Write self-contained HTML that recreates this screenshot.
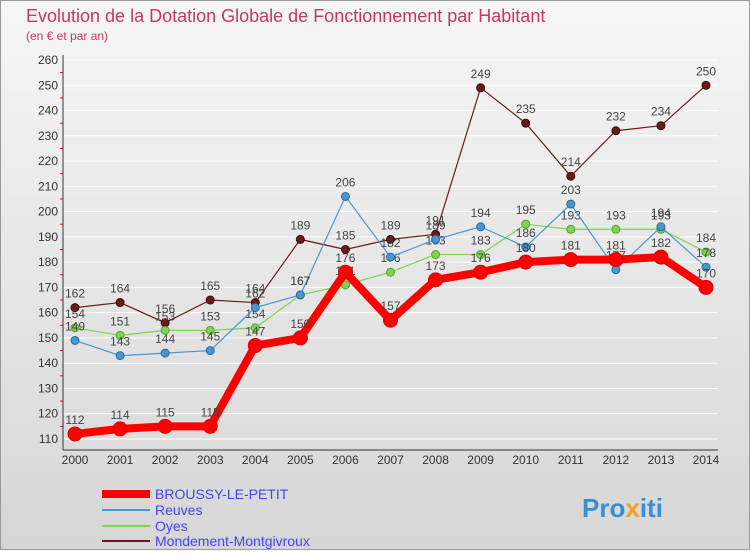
<!DOCTYPE html>
<html><head><meta charset="utf-8"><style>
body{margin:0;width:750px;height:550px;overflow:hidden;font-family:"Liberation Sans",sans-serif;}
</style></head><body>
<svg width="750" height="550" xmlns="http://www.w3.org/2000/svg">
<defs><linearGradient id="bg" x1="0" y1="0" x2="0" y2="1"><stop offset="0" stop-color="#f6f6f6"/><stop offset="1" stop-color="#d6d6d6"/></linearGradient></defs>
<rect x="0.5" y="0.5" width="749" height="549" fill="url(#bg)" stroke="#999"/>
<text x="26" y="22" font-size="18" fill="#c8385c">Evolution de la Dotation Globale de Fonctionnement par Habitant</text>
<text x="26" y="40" font-size="12" fill="#c8385c">(en € et par an)</text>
<g id="axes"></g><g id="series"></g>
<g>
<line x1="102" y1="494" x2="150" y2="494" stroke="#f00" stroke-width="8"/>
<text x="155" y="499" font-size="14" fill="#4444ee">BROUSSY-LE-PETIT</text>
<line x1="102" y1="510" x2="150" y2="510" stroke="#4a97cf" stroke-width="2"/>
<text x="155" y="515" font-size="14" fill="#4444ee">Reuves</text>
<line x1="102" y1="526" x2="150" y2="526" stroke="#7dd450" stroke-width="2"/>
<text x="155" y="531" font-size="14" fill="#4444ee">Oyes</text>
<line x1="102" y1="541" x2="150" y2="541" stroke="#6a1a1a" stroke-width="2"/>
<text x="155" y="546" font-size="14" fill="#4444ee">Mondement-Montgivroux</text>
</g>
<text x="582" y="517" font-size="26" font-weight="bold" fill="#3a8fd0">Pro<tspan fill="#f0a020">x</tspan>iti</text>
</svg>
<script>
const years=[2000,2001,2002,2003,2004,2005,2006,2007,2008,2009,2010,2011,2012,2013,2014];
const broussy=[112,114,115,115,147,150,176,157,173,176,180,181,181,182,170];
const reuves=[149,143,144,145,162,167,206,182,189,194,186,203,177,194,178];
const oyes=[154,151,153,153,154,167,171,176,183,183,195,193,193,193,184];
const mondement=[162,164,156,165,164,189,185,189,191,249,235,214,232,234,250];
const yTicks=[110,120,130,140,150,160,170,180,190,200,210,220,230,240,250,260];
const NS="http://www.w3.org/2000/svg";
const xS=i=>75+i*(706-75)/14;
const yS=v=>439-(v-110)*(439-60)/150;
function mk(t,a,p){const e=document.createElementNS(NS,t);for(const k in a)e.setAttribute(k,a[k]);p.appendChild(e);return e;}
const ax=document.getElementById('axes');
yTicks.forEach(v=>{
 const g=mk('line',{x1:63,x2:718,y1:yS(v),y2:yS(v),stroke:'#fff','stroke-width':1},ax);
 
 
 const t=mk('text',{x:58,y:yS(v)+4,'font-size':12,'text-anchor':'end',fill:'#333'},ax);t.textContent=v;
 
 
});
for(let v=115;v<260;v+=10){mk('line',{x1:60,x2:63,y1:yS(v),y2:yS(v),stroke:'#e00'},ax);}
years.forEach((y,i)=>{
 const t=mk('text',{x:xS(i),y:464,'font-size':12,'text-anchor':'middle',fill:'#333'},ax);t.textContent=y;
 
 
});
mk('line',{x1:63,x2:63,y1:55,y2:450,stroke:'#333'},ax);
mk('line',{x1:63,x2:718,y1:450,y2:450,stroke:'#333'},ax);
const sg=document.getElementById('series');
function series(d,name,col,dark,w,r){
 const g=mk('g',{},sg);
 
 
 mk('polyline',{points:d.map((v,i)=>xS(i)+','+yS(v)).join(' '),fill:'none',stroke:col,'stroke-width':w,'stroke-linejoin':'round'},g);
 d.forEach((v,i)=>{
  const c=mk('circle',{cx:xS(i),cy:yS(v),r:r,fill:col,stroke:dark,'stroke-width':1},g);
  
  
  const t=mk('text',{x:xS(i),y:yS(v)-10,'font-size':12,'text-anchor':'middle',fill:'#444'},g);t.textContent=v;
  
  
 });
}
series(mondement,'mondement-line','#6a1a1a','#3a0a0a',1.2,4);
series(oyes,'oyes-line','#7dd450','#5aa030',1.2,4);
series(reuves,'reuves-line','#4a97cf','#2a6a9f',1.2,4);
series(broussy,'broussy-line','#f00','#d00',8,7);
</script>
</body></html>
